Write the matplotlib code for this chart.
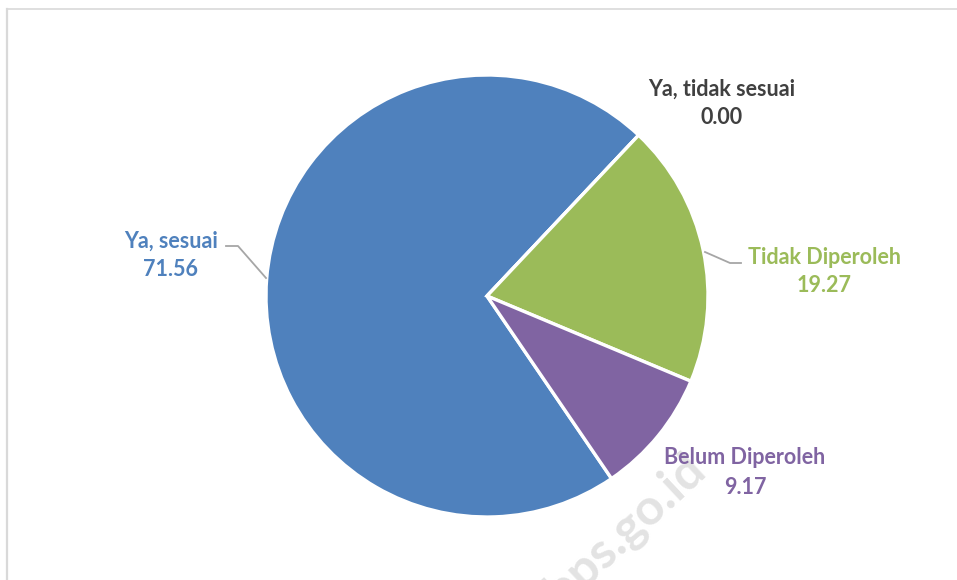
import matplotlib.pyplot as plt
from matplotlib.lines import Line2D

categories = ["Ya, sesuai", "Ya, tidak sesuai", "Tidak Diperoleh", "Belum Diperoleh"]
values = [71.56, 0.00, 19.27, 9.17]
colors = ["#4F81BD", "#404040", "#9BBB59", "#8064A2"]
label_colors = ["#4F81BD", "#404040", "#9BBB59", "#8064A2"]

W, H = 957, 580
fig = plt.figure(figsize=(W / 100, H / 100), dpi=100)
ax = fig.add_axes([0, 0, 1, 1])

def py(y):
    return H - y

# watermark behind everything
ax.text(625, py(530), "bps.go.id", rotation=43, ha="center", va="center",
        fontsize=36, fontweight="bold", color="#E3E3E3",
        family=["Lato", "DejaVu Sans"], zorder=0)

# pie drawn clockwise, white gaps between slices
ax.pie(values, colors=colors, startangle=-55.7, counterclock=False,
       center=(487, py(296)), radius=221, frame=True,
       wedgeprops=dict(edgecolor="white", linewidth=2.4))
ax.set_xlim(0, W)
ax.set_ylim(0, H)
ax.set_aspect("equal")
ax.axis("off")

font = ["Lato", "DejaVu Sans"]
label_pos = [(171, 241), (722, 89), (824, 257), (745, 458)]
for cat, val, col, (x, y) in zip(categories, values, label_colors, label_pos):
    ax.text(x, py(y), cat, ha="center", va="center", fontsize=15.5,
            fontweight="bold", color=col, family=font, zorder=5)
    ax.text(x, py(y + 29), f"{val:.2f}", ha="center", va="center", fontsize=15.5,
            fontweight="bold", color=col, family=font, zorder=5)

# leader lines
lc = "#A6A6A6"
ax.plot([226, 238, 266], [py(246), py(246), py(278)], color=lc, lw=1.3, zorder=4)
ax.plot([705, 730, 741], [py(252), py(263), py(263)], color=lc, lw=1.3, zorder=4)

# chart frame
fig.add_artist(Line2D([6.5 / W, 1], [1 - 9 / H, 1 - 9 / H], color="#D9D9D9", lw=1.2,
                      transform=fig.transFigure))
fig.add_artist(Line2D([6.5 / W, 6.5 / W], [0, 1 - 9 / H], color="#D9D9D9", lw=1.6,
                      transform=fig.transFigure))

fig.savefig("out.png", dpi=100, facecolor="white")
